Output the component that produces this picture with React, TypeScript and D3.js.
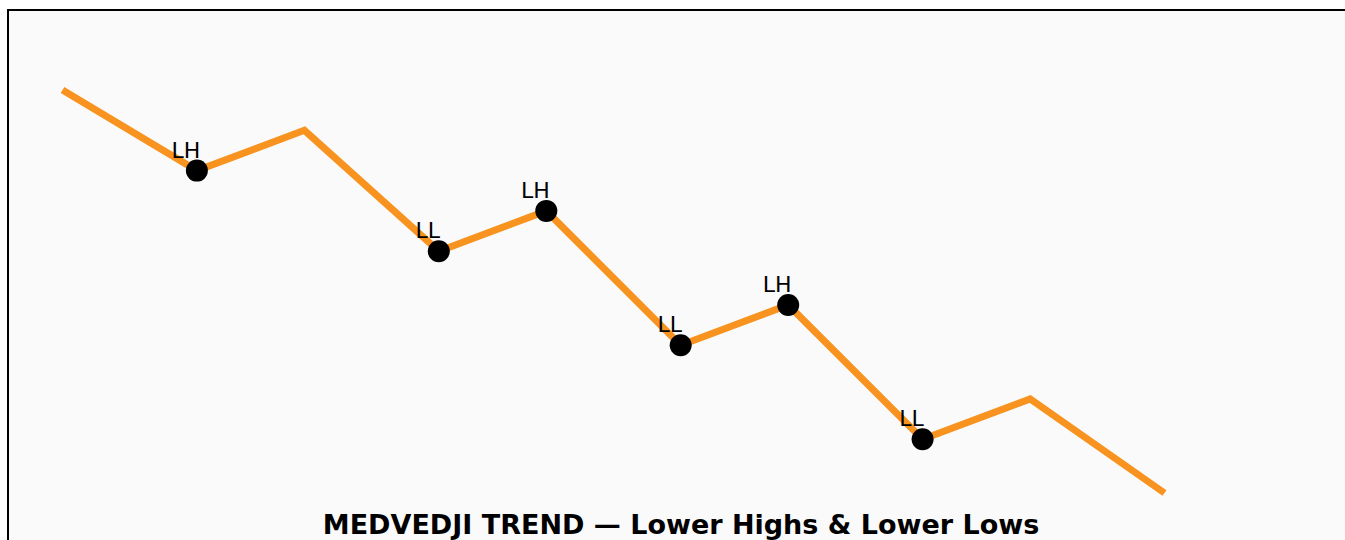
import React from "react";
import * as d3 from "d3";

const xs = [0, 1, 1.8, 2.8, 3.6, 4.6, 5.4, 6.4, 7.2, 8.2];
const prices = [100, 94, 97, 88, 91, 81, 84, 74, 77, 70];
const markerIdx = [1, 3, 4, 5, 6, 7];
const markerLabels = ["LH", "LL", "LH", "LL", "LH", "LL"];
const title = "MEDVEDJI TREND — Lower Highs & Lower Lows";

export default function App() {
  const W = 1345, H = 540;
  const x = d3.scaleLinear().domain([0, 8.2]).range([62.5, 1164.5]);
  const y = d3.scaleLinear().domain([70, 100]).range([493, 90]);
  const line = d3.line<number>().x((_, i) => x(xs[i])).y((d) => y(d));
  return (
    <svg width={W} height={H} style={{ position: "absolute", left: 0, top: 0 }}>
      <rect x={0} y={0} width={W} height={H} fill="#ffffff" />
      <rect x={8} y={10} width={W + 20} height={H + 20} fill="#fafafa" stroke="#000" strokeWidth={2} />
      <path d={line(prices) || ""} fill="none" stroke="#f7931e" strokeWidth={7} strokeLinejoin="miter" strokeLinecap="butt" />
      {markerIdx.map((idx, k) => (
        <g key={k}>
          <circle cx={x(xs[idx])} cy={y(prices[idx])} r={11} fill="#000" />
          <text
            x={x(xs[idx]) - 11}
            y={y(prices[idx]) - 13}
            textAnchor="middle"
            fontFamily="DejaVu Sans"
            fontSize={22}
            fill="#000"
          >
            {markerLabels[k]}
          </text>
        </g>
      ))}
      <text x={681} y={534} textAnchor="middle" fontFamily="DejaVu Sans" fontWeight="bold" fontSize={27} fill="#000">
        {title}
      </text>
    </svg>
  );
}
